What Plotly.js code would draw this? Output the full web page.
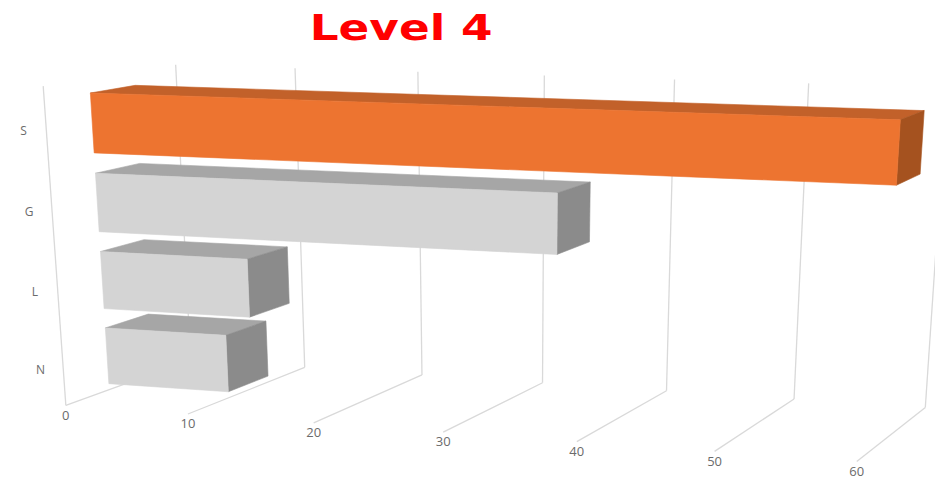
<!DOCTYPE html>
<html>
<head>
<meta charset="utf-8">
<script src="https://cdn.plot.ly/plotly-3.0.1.min.js"></script>
<style>
html,body{margin:0;padding:0;background:#fff;overflow:hidden;}
#chart{width:935px;height:481px;}
.gtitle{transform-box:fill-box;transform-origin:center;transform:scaleX(1.26);}
</style>
</head>
<body>
<div id="chart"></div>
<script>
// ---------------- data ----------------
const categories = ['S', 'G', 'L', 'N'];
const values = [60, 36, 12, 10];
const tickValues = [0, 10, 20, 30, 40, 50, 60];
const tickLabels = ['0', '10', '20', '30', '40', '50', '60'];

// ---------------- styles ----------------
const frontColors = ['#ED7430', '#D4D4D4', '#D4D4D4', '#D4D4D4'];
const topColors   = ['#C2612A', '#A6A6A6', '#A6A6A6', '#A6A6A6'];
const sideColors  = ['#A5521F', '#8B8B8B', '#8B8B8B', '#8B8B8B'];
const gridColor = '#D9D9D9';
const textColor = '#6B6B6B';

// ---------------- 3D frame / camera calibration ----------------
// world: value (axis units), depth (0 front .. 1 back), height (0 floor .. 1 top)
// paired with the picture position of the frame corners; a perspective camera is fitted to them.
const frameRefs = [
  [0,0,0,67,405],[10,0,0,188,414],[20,0,0,314,423],[30,0,0,442,432],[40,0,0,577,442],[50,0,0,714,451],[60,0,0,858,461],
  [10,1,0,304,368],[20,1,0,421,376],[30,1,0,543,383],[40,1,0,666,390],[50,1,0,795,399],[60,1,0,925,407],
  [0,1,1,177,63],[10,1,1,295,68],[40,1,1,675,80],[50,1,1,808,84],
  [0,0,1,42,87]
];
const VSCALE = 60;
const AXIS_END = 70;

function solveLinear(A, b) {
  const n = b.length;
  const M = A.map((r, i) => r.concat([b[i]]));
  for (let c = 0; c < n; c++) {
    let p = c;
    for (let r = c + 1; r < n; r++) if (Math.abs(M[r][c]) > Math.abs(M[p][c])) p = r;
    [M[c], M[p]] = [M[p], M[c]];
    for (let r = 0; r < n; r++) {
      if (r === c) continue;
      const f = M[r][c] / M[c][c];
      for (let k = c; k <= n; k++) M[r][k] -= f * M[c][k];
    }
  }
  return M.map((r, i) => r[n] / r[i]);
}
function fitCamera(refs) {
  const rows = [], rhs = [];
  refs.forEach(([X, Y, Z, u, v]) => {
    const x = X / VSCALE;
    rows.push([x, Y, Z, 1, 0, 0, 0, 0, -u * x, -u * Y, -u * Z]); rhs.push(u);
    rows.push([0, 0, 0, 0, x, Y, Z, 1, -v * x, -v * Y, -v * Z]); rhs.push(v);
  });
  const n = 11;
  const AtA = Array.from({length: n}, () => new Array(n).fill(0));
  const Atb = new Array(n).fill(0);
  rows.forEach((r, k) => {
    for (let i = 0; i < n; i++) {
      Atb[i] += r[i] * rhs[k];
      for (let j = 0; j < n; j++) AtA[i][j] += r[i] * r[j];
    }
  });
  return solveLinear(AtA, Atb);
}
const P = fitCamera(frameRefs);
function proj(X, Y, Z) {
  const x = X / VSCALE;
  const w = P[8] * x + P[9] * Y + P[10] * Z + 1;
  return [(P[0] * x + P[1] * Y + P[2] * Z + P[3]) / w, (P[4] * x + P[5] * Y + P[6] * Z + P[7]) / w];
}

// ---------------- traces ----------------
const traces = [];
// gridlines: back wall verticals + floor lines + category axis line
const gx = [], gy = [];
function seg(a, b) { gx.push(a[0], b[0], null); gy.push(a[1], b[1], null); }
tickValues.concat([AXIS_END]).forEach(t => {
  seg(proj(t, 1, 0), proj(t, 1, 1));
  seg(proj(t, 0, 0), proj(t, 1, 0));
});
seg(proj(0, 0, 0), proj(0, 0, 1));
traces.push({type: 'scatter', mode: 'lines', x: gx, y: gy, line: {color: gridColor, width: 1.3},
  hoverinfo: 'skip', showlegend: false});

// bars
const nCat = categories.length;
const depth0 = 0.33, depth1 = 0.67, halfH = 0.093, zShift = -0.012;
function face(pts, color) {
  const p = pts.map(q => proj(q[0], q[1], q[2]));
  traces.push({type: 'scatter', mode: 'lines', x: p.map(q => q[0]).concat([p[0][0]]),
    y: p.map(q => q[1]).concat([p[0][1]]), fill: 'toself', fillcolor: color,
    line: {color: color, width: 0.6}, hoverinfo: 'skip', showlegend: false});
}
categories.forEach((c, i) => {
  const zc = (nCat - 1 - i + 0.5) / nCat + zShift;
  const z0 = zc - halfH, z1 = zc + halfH, v = values[i];
  face([[0, depth0, z1], [v, depth0, z1], [v, depth1, z1], [0, depth1, z1]], topColors[i]);
  face([[v, depth0, z0], [v, depth1, z0], [v, depth1, z1], [v, depth0, z1]], sideColors[i]);
  face([[0, depth0, z0], [v, depth0, z0], [v, depth0, z1], [0, depth0, z1]], frontColors[i]);
});

// value tick labels along the front floor edge
const tl = tickValues.map(t => proj(t, 0, 0));
traces.push({type: 'scatter', mode: 'text', x: tl.map(p => p[0]), y: tl.map(p => p[1] + 11),
  text: tickLabels, textposition: 'middle center',
  textfont: {family: 'Open Sans, sans-serif', size: 13, color: textColor},
  hoverinfo: 'skip', showlegend: false});

// category labels along the front-left edge
const cl = categories.map((c, i) => proj(0, 0, (nCat - 1 - i + 0.5) / nCat + zShift));
traces.push({type: 'scatter', mode: 'text', x: cl.map(p => p[0] - 23), y: cl.map(p => p[1]),
  text: categories, textposition: 'middle center',
  textfont: {family: 'Open Sans, sans-serif', size: 12, color: textColor},
  hoverinfo: 'skip', showlegend: false});

const layout = {
  width: 935, height: 481,
  margin: {l: 0, r: 0, t: 0, b: 0},
  paper_bgcolor: '#ffffff', plot_bgcolor: '#ffffff',
  showlegend: false, hovermode: false,
  title: {
    text: '<b>Level 4</b>',
    font: {family: 'DejaVu Sans, sans-serif', size: 36, color: '#FF0000'},
    xref: 'container', yref: 'container', x: 0.429, y: 0.943, xanchor: 'center', yanchor: 'middle'
  },
  xaxis: {range: [0, 935], visible: false, fixedrange: true},
  yaxis: {range: [481, 0], visible: false, fixedrange: true}
};

Plotly.newPlot('chart', traces, layout, {displayModeBar: false, staticPlot: true});
</script>
</body>
</html>
